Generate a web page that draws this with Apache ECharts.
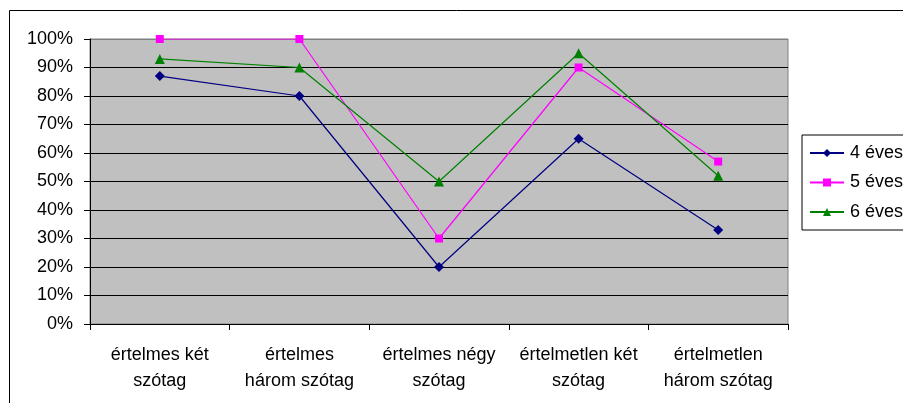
<!DOCTYPE html>
<html>
<head>
<meta charset="utf-8">
<script src="https://cdn.jsdelivr.net/npm/echarts@6/dist/echarts.min.js"></script>
<style>
html,body{margin:0;padding:0;background:#fff;}
#chart{width:903px;height:403px;}
</style>
</head>
<body>
<div id="chart"></div>
<script>
var categories = ["értelmes két\nszótag", "értelmes\nhárom szótag", "értelmes négy\nszótag", "értelmetlen két\nszótag", "értelmetlen\nhárom szótag"];
var seriesNames = ["4 éves", "5 éves", "6 éves"];
var values4 = [87, 80, 20, 65, 33];
var values5 = [100, 100, 30, 90, 57];
var values6 = [93, 90, 50, 95, 52];
var yTicks = [0, 10, 20, 30, 40, 50, 60, 70, 80, 90, 100];

var FONT = "'Liberation Sans', Arial, sans-serif";
var chart = echarts.init(document.getElementById('chart'), null, {renderer: 'canvas'});
var splitColors = yTicks.map(function (v, i) { return i === yTicks.length - 1 ? '#808080' : '#000000'; });

chart.setOption({
  animation: false,
  backgroundColor: '#ffffff',
  textStyle: {fontFamily: FONT, color: '#000'},
  graphic: [{
    type: 'rect',
    shape: {x: 9.5, y: 10.5, width: 1000, height: 1000},
    style: {fill: 'none', stroke: '#000', lineWidth: 1},
    silent: true, z: -1
  }],
  grid: {
    left: 90, top: 39, right: 115, bottom: 79,
    show: true, backgroundColor: '#C0C0C0', borderColor: '#808080', borderWidth: 1
  },
  legend: {
    orient: 'vertical',
    left: 802, top: 135,
    data: seriesNames,
    borderColor: '#000', borderWidth: 1,
    padding: [9, 60, 9, 7],
    itemWidth: 34, itemHeight: 10, itemGap: 11.5,
    textStyle: {fontFamily: FONT, fontSize: 18, color: '#000', padding: [0, 0, 0, 1]}
  },
  xAxis: {
    type: 'category',
    data: categories,
    boundaryGap: true,
    axisLine: {lineStyle: {color: '#000', width: 1}},
    axisTick: {show: true, length: 6, lineStyle: {color: '#000'}},
    axisLabel: {fontFamily: FONT, fontSize: 18, color: '#000', lineHeight: 26, margin: 18, interval: 0},
    splitLine: {show: false}
  },
  yAxis: {
    type: 'value',
    min: 0, max: 100, interval: 10,
    axisLine: {show: true, lineStyle: {color: '#000', width: 1}},
    axisTick: {show: true, length: 6, lineStyle: {color: '#000'}},
    axisLabel: {fontFamily: FONT, fontSize: 18, color: '#000', margin: 17, formatter: '{value}%'},
    splitLine: {show: true, lineStyle: {color: splitColors, width: 1}}
  },
  series: [
    {name: seriesNames[0], type: 'line', data: values4, symbol: 'diamond', symbolSize: 10,
     color: '#000080', lineStyle: {width: 1.2, color: '#000080'}, itemStyle: {color: '#000080'}},
    {name: seriesNames[1], type: 'line', data: values5, symbol: 'rect', symbolSize: 8,
     color: '#FF00FF', lineStyle: {width: 1.2, color: '#FF00FF'}, itemStyle: {color: '#FF00FF'}},
    {name: seriesNames[2], type: 'line', data: values6, symbol: 'triangle', symbolSize: 10,
     color: '#008000', lineStyle: {width: 1.2, color: '#008000'}, itemStyle: {color: '#008000'}}
  ]
});
</script>
</body>
</html>
